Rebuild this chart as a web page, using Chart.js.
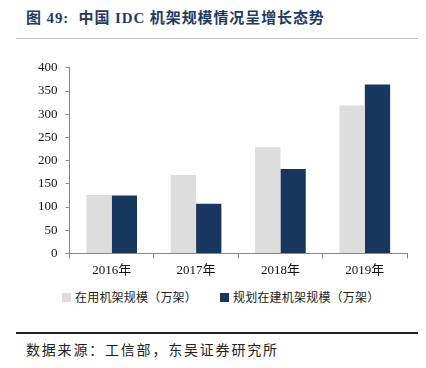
<!DOCTYPE html>
<html>
<head>
<meta charset="utf-8">
<script src="https://cdn.jsdelivr.net/npm/chart.js@4/dist/chart.umd.min.js"></script>
<style>
  html, body { margin: 0; padding: 0; background: #fff; }
  body { width: 426px; height: 368px; position: relative; overflow: hidden; }
  .title {
    position: absolute; left: 26px; top: 6px;
    font-family: "Liberation Serif", "Noto Sans CJK SC", serif;
    font-weight: bold; font-size: 15px; color: #1f3a64; letter-spacing: 0.9px;
  }
  .rule-top { position: absolute; left: 16px; right: 8px; top: 38px; border-top: 1px solid #bfbfbf; }
  .rule-bottom { position: absolute; left: 16px; right: 8px; top: 332px; border-top: 2px solid #222; }
  .source {
    position: absolute; left: 26px; top: 339px;
    font-family: "Noto Sans CJK SC", sans-serif; font-size: 14px; color: #222; letter-spacing: 1.8px;
  }
  .wrap { position: absolute; left: 0; top: 52px; width: 426px; height: 230px; }
  .legend {
    position: absolute; top: 288px; height: 18px; line-height: 18px;
    font-family: "Noto Sans CJK SC", sans-serif; font-size: 12px; color: #222;
    letter-spacing: 0.2px; white-space: nowrap;
  }
  .legend i { position: absolute; left: 0; top: 5px; width: 9px; height: 9px; }
  .legend span { position: absolute; left: 13px; top: 0; }
</style>
</head>
<body>
<div class="title">图 49:&nbsp; 中国 IDC 机架规模情况呈增长态势</div>
<div class="rule-top"></div>
<div class="wrap"><canvas id="c"></canvas></div>
<div class="legend" id="lg0" style="left:62px"><i></i><span></span></div>
<div class="legend" id="lg1" style="left:220px"><i></i><span></span></div>
<div class="rule-bottom"></div>
<div class="source">数据来源：工信部，东吴证券研究所</div>
<script>
  const years = ["2016年", "2017年", "2018年", "2019年"];
  const inUse = [126, 169, 229, 319];
  const planned = [125, 107, 182, 364];
  const seriesNames = ["在用机架规模（万架）", "规划在建机架规模（万架）"];
  const seriesColors = ["#dddddd", "#17375e"];

  const chart = new Chart(document.getElementById("c"), {
    type: "bar",
    data: {
      labels: years,
      datasets: [
        { label: seriesNames[0], data: inUse, backgroundColor: seriesColors[0] },
        { label: seriesNames[1], data: planned, backgroundColor: seriesColors[1] },
      ],
    },
    options: {
      responsive: true,
      maintainAspectRatio: false,
      animation: false,
      layout: { padding: { left: 30, right: 19, top: 10, bottom: 0 } },
      datasets: { bar: { categoryPercentage: 0.6, barPercentage: 1 } },
      plugins: {
        tooltip: { enabled: false },
        legend: { display: false },
      },
      scales: {
        x: {
          grid: { offset: true, drawOnChartArea: false, tickLength: 5, color: "#888" },
          border: { color: "#888" },
          ticks: { color: "#111", padding: 4, font: { family: "Liberation Serif, Noto Sans CJK SC", size: 13 } },
        },
        y: {
          min: 0, max: 400,
          ticks: { stepSize: 50, autoSkip: false, color: "#111", padding: 8, font: { family: "Liberation Serif", size: 13 } },
          grid: { drawOnChartArea: false, tickLength: 4, color: "#888" },
          border: { color: "#888" },
        },
      },
    },
  });

  // legend as html, filled from the chart's datasets
  chart.data.datasets.forEach((ds, i) => {
    const el = document.getElementById("lg" + i);
    el.querySelector("i").style.background = ds.backgroundColor;
    el.querySelector("span").textContent = ds.label;
  });
</script>
</body>
</html>
